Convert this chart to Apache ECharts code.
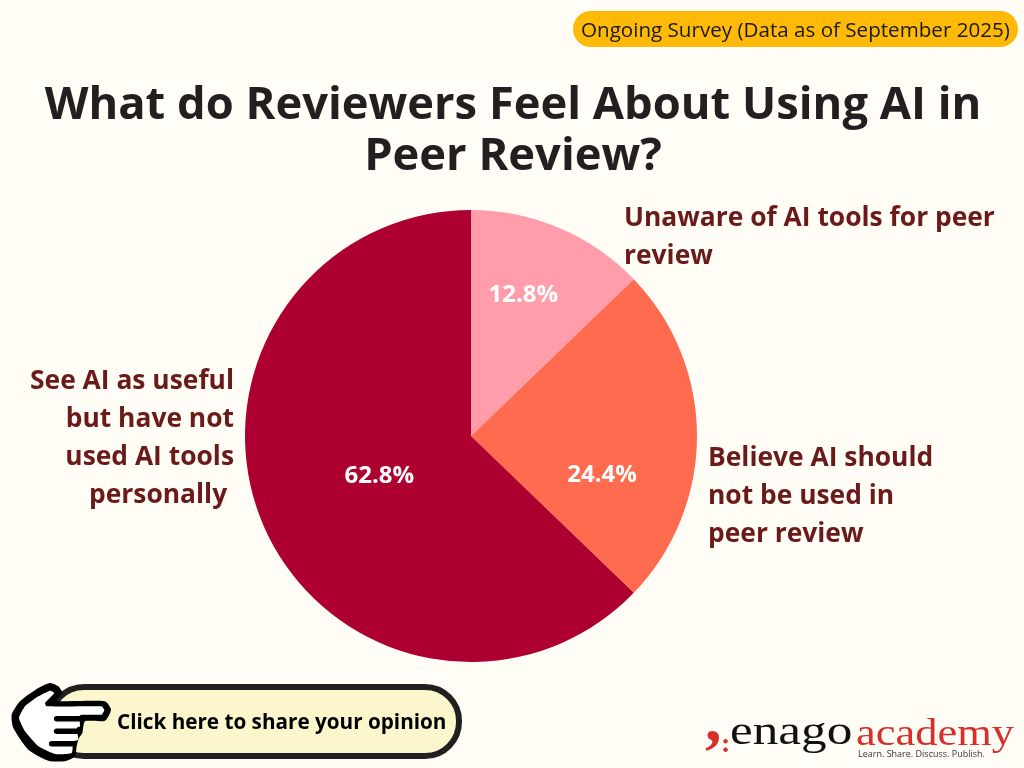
<!DOCTYPE html>
<html>
<head>
<meta charset="utf-8">
<style>
  html, body { margin: 0; padding: 0; background: #FFFDF5; }
  #main { width: 1024px; height: 768px; }
</style>
<script src="https://cdn.jsdelivr.net/npm/echarts@6/dist/echarts.min.js"></script>
</head>
<body>
<div id="main"></div>
<script>
var categories = [
  'Unaware of AI tools for peer\nreview',
  'Believe AI should\nnot be used in\npeer review',
  'See AI as useful\nbut have not\nused AI tools\npersonally '
];
var shares = [12.8, 24.4, 62.8];
var sliceColors = ['#FF9DAA', '#FF6B4E', '#AD0030'];
var valueLabelOffsets = [[7, -34], [15, 39], [15, -5]];

var titleText = 'What do Reviewers Feel About Using AI in\nPeer Review?';
var badgeText = 'Ongoing Survey (Data as of September 2025)';
var buttonText = 'Click here to share your opinion';

var font = '"Open Sans", sans-serif';
var labelColor = '#6B1A1A';

var chart = echarts.init(document.getElementById('main'));

var pieData = [];
for (var i = 0; i < shares.length; i++) {
  pieData.push({
    name: categories[i],
    value: shares[i],
    itemStyle: { color: sliceColors[i] },
    label: { offset: valueLabelOffsets[i] }
  });
}

function catLabel(idx, x, y, align) {
  return {
    type: 'text', x: x, y: y, z: 10,
    style: {
      text: categories[idx], fill: labelColor, align: align, verticalAlign: 'top',
      font: 'bold 26.4px ' + font, lineHeight: 38
    }
  };
}

// hand outline was traced on a 3x crop, origin (5,678)
function hp(list) {
  return list.map(function (p) { return [p[0] / 3 + 5, p[1] / 3 + 678]; });
}
var handOuter = [[135, 15], [160, 25], [172, 45], [155, 68], [300, 70], [318, 95], [300, 128], [240, 130], [232, 165], [222, 180], [215, 205], [210, 235], [180, 250], [130, 248], [70, 215], [25, 150], [20, 110], [45, 70], [100, 30]];
var handInner = [[135, 38], [148, 45], [120, 75], [125, 85], [290, 85], [298, 97], [290, 110], [225, 112], [225, 145], [215, 150], [220, 185], [205, 190], [200, 225], [150, 228], [100, 205], [60, 160], [42, 120], [60, 85], [100, 55]];
var handLines = [[[155, 122], [225, 122]], [[155, 160], [215, 160]], [[140, 197], [205, 197]]];

var hand = [
  { type: 'polygon', z: 7, shape: { points: hp(handOuter), smooth: 0.2 }, style: { fill: '#000000' } },
  { type: 'polygon', z: 8, shape: { points: hp(handInner), smooth: 0.15 }, style: { fill: '#FFFFFF' } }
].concat(handLines.map(function (l) {
  return { type: 'polyline', z: 9, shape: { points: hp(l) }, style: { stroke: '#000000', lineWidth: 5.5, lineCap: 'round', fill: null } };
}));

var option = {
  backgroundColor: '#FFFDF5',
  animation: false,
  title: {
    text: titleText,
    left: 508, top: 76, textAlign: 'center',
    textStyle: { fontFamily: font, fontWeight: 'bold', fontSize: 45.3, lineHeight: 51, color: '#231F20' }
  },
  series: [{
    type: 'pie',
    center: [471, 436],
    radius: [0, 226],
    startAngle: 90,
    clockwise: true,
    silent: true,
    data: pieData,
    label: {
      position: 'inside',
      formatter: function (p) { return p.value.toFixed(1) + '%'; },
      color: '#FFFFFF', fontFamily: font, fontWeight: 'bold', fontSize: 24
    },
    labelLine: { show: false }
  }],
  graphic: [
    // survey badge
    { type: 'rect', shape: { x: 573, y: 11, width: 445, height: 36, r: 18 }, style: { fill: '#FFB907' } },
    { type: 'text', x: 581, y: 31, style: { text: badgeText, fill: '#1A1A1A', font: '20.6px ' + font, verticalAlign: 'middle' } },
    // outer labels
    catLabel(0, 624, 199, 'left'),
    catLabel(1, 708, 439, 'left'),
    catLabel(2, 234, 362, 'right'),
    // button
    { type: 'rect', z: 5, shape: { x: 50, y: 687, width: 409, height: 69, r: 34 }, style: { fill: '#FBF6CC', stroke: '#231F20', lineWidth: 6 } },
    { type: 'text', z: 6, x: 117, y: 723, style: { text: buttonText, fill: '#000000', font: 'bold 20.7px ' + font, verticalAlign: 'middle' } },
    // logo
    { type: 'text', x: 705, y: 757, style: { text: ',', fill: '#D5302A', font: 'bold 66px "Liberation Serif"', verticalAlign: 'bottom' } },
    { type: 'text', x: 721, y: 759, style: { text: ':', fill: '#D5302A', font: 'bold 28px "Liberation Serif"', verticalAlign: 'bottom' } },
    { type: 'text', x: 730, y: 754, scaleX: 1.25, style: { text: 'enago', fill: '#111111', font: '41px "Liberation Serif"', verticalAlign: 'bottom' } },
    { type: 'text', x: 856, y: 754, scaleX: 1.17, style: { text: 'academy', fill: '#D5302A', font: '38px "Liberation Serif"', verticalAlign: 'bottom' } },
    { type: 'text', x: 858, y: 754, style: { text: 'Learn. Share. Discuss. Publish.', fill: '#333333', font: '9px "Open Sans"', verticalAlign: 'middle' } }
  ].concat(hand)
};
chart.setOption(option);
</script>
</body>
</html>
